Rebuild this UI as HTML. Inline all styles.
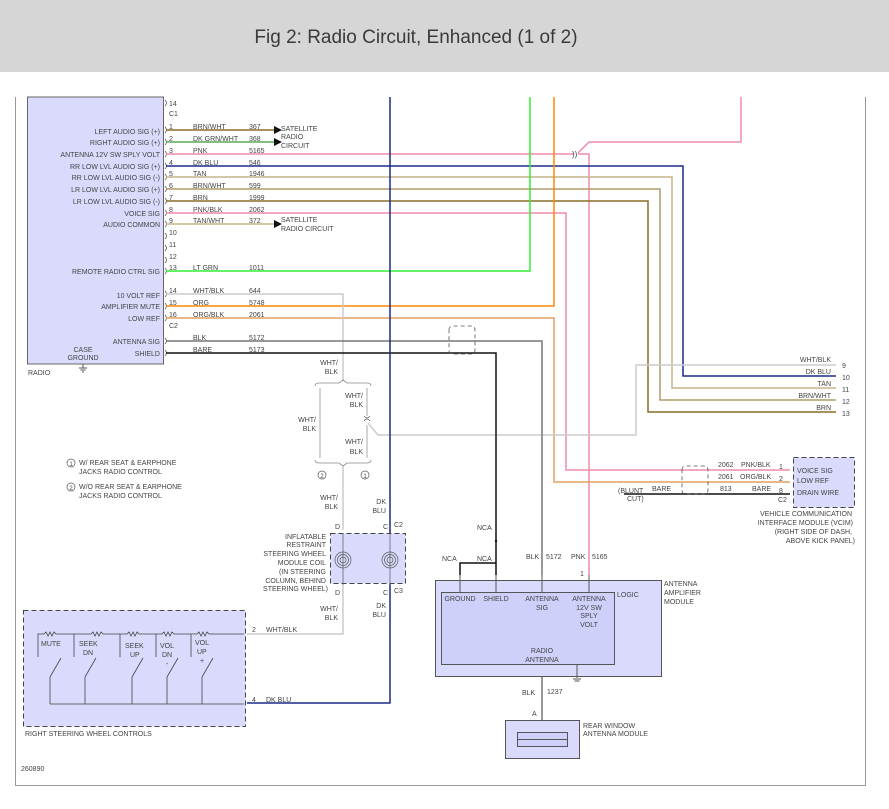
<!DOCTYPE html>
<html><head><meta charset="utf-8"><style>
html,body{margin:0;padding:0;background:#fff;}
svg{display:block;}
text{font-family:"Liberation Sans",sans-serif;font-size:7px;fill:#444;}
</style></head><body>
<svg width="889" height="809" viewBox="0 0 889 809" xmlns="http://www.w3.org/2000/svg">
<rect x="0" y="0" width="889" height="72" fill="#d6d6d6"/>
<text x="416" y="43" text-anchor="middle" style="font-size:19px;fill:#3a3a3a">Fig 2: Radio Circuit, Enhanced (1 of 2)</text>
<!-- frame -->
<path d="M15.5 97 V785.5 H865.5 V97" fill="none" stroke="#999" stroke-width="1"/>
<!-- radio box -->
<rect x="27.5" y="97" width="136" height="267" fill="#dadafc" stroke="#666"/>
<g text-anchor="end">
<text x="160" y="134">LEFT AUDIO SIG (+)</text>
<text x="160" y="145">RIGHT AUDIO SIG (+)</text>
<text x="160" y="157">ANTENNA 12V SW SPLY VOLT</text>
<text x="160" y="169">RR LOW LVL AUDIO SIG (+)</text>
<text x="160" y="180">RR LOW LVL AUDIO SIG (-)</text>
<text x="160" y="192">LR LOW LVL AUDIO SIG (+)</text>
<text x="160" y="204">LR LOW LVL AUDIO SIG (-)</text>
<text x="160" y="216">VOICE SIG</text>
<text x="160" y="227">AUDIO COMMON</text>
<text x="160" y="274">REMOTE RADIO CTRL SIG</text>
<text x="160" y="298">10 VOLT REF</text>
<text x="160" y="309">AMPLIFIER MUTE</text>
<text x="160" y="321">LOW REF</text>
<text x="160" y="344">ANTENNA SIG</text>
<text x="160" y="356">SHIELD</text>
</g>
<text x="83" y="352" text-anchor="middle">CASE</text>
<text x="83" y="360" text-anchor="middle">GROUND</text>
<text x="28" y="375">RADIO</text>
<path d="M83 364 v4 M79 368 h8 M80.5 370 h5 M82 372 h2" stroke="#555" fill="none"/>
<!-- pin numbers -->
<g>
<text x="169" y="106">14</text><text x="169" y="116">C1</text>
<text x="169" y="129">1</text><text x="169" y="141">2</text><text x="169" y="153">3</text><text x="169" y="165">4</text>
<text x="169" y="176">5</text><text x="169" y="188">6</text><text x="169" y="200">7</text><text x="169" y="212">8</text>
<text x="169" y="223">9</text><text x="169" y="235">10</text><text x="169" y="247">11</text><text x="169" y="259">12</text>
<text x="169" y="270">13</text><text x="169" y="293">14</text><text x="169" y="305">15</text><text x="169" y="317">16</text>
<text x="169" y="328">C2</text>
</g>
<g font-size="7">
<text x="193" y="129">BRN/WHT</text><text x="249" y="129">367</text>
<text x="193" y="141">DK GRN/WHT</text><text x="249" y="141">368</text>
<text x="193" y="153">PNK</text><text x="249" y="153">5165</text>
<text x="193" y="165">DK BLU</text><text x="249" y="165">546</text>
<text x="193" y="176">TAN</text><text x="249" y="176">1946</text>
<text x="193" y="188">BRN/WHT</text><text x="249" y="188">599</text>
<text x="193" y="200">BRN</text><text x="249" y="200">1999</text>
<text x="193" y="212">PNK/BLK</text><text x="249" y="212">2062</text>
<text x="193" y="223">TAN/WHT</text><text x="249" y="223">372</text>
<text x="193" y="270">LT GRN</text><text x="249" y="270">1011</text>
<text x="193" y="293">WHT/BLK</text><text x="249" y="293">644</text>
<text x="193" y="305">ORG</text><text x="249" y="305">5748</text>
<text x="193" y="317">ORG/BLK</text><text x="249" y="317">2061</text>
<text x="193" y="340">BLK</text><text x="249" y="340">5172</text>
<text x="193" y="352">BARE</text><text x="249" y="352">5173</text>
<text x="281" y="131">SATELLITE</text><text x="281" y="139">RADIO</text><text x="281" y="148">CIRCUIT</text>
<text x="281" y="222">SATELLITE</text><text x="281" y="231">RADIO CIRCUIT</text>
</g>
<!-- connector marks -->
<g stroke="#555" fill="none" stroke-width="0.8">
<path d="M165 100 q3 3 0 6 M165 127 q3 3 0 6 M165 139 q3 3 0 6 M165 151 q3 3 0 6 M165 163 q3 3 0 6 M165 174 q3 3 0 6 M165 186 q3 3 0 6 M165 198 q3 3 0 6 M165 210 q3 3 0 6 M165 221 q3 3 0 6 M165 233 q3 3 0 6 M165 245 q3 3 0 6 M165 257 q3 3 0 6 M165 268 q3 3 0 6 M165 291 q3 3 0 6 M165 303 q3 3 0 6 M165 315 q3 3 0 6 M165 338 q3 3 0 6 M165 350 q3 3 0 6"/>
</g>
<!-- wires -->
<g fill="none" stroke-width="1.5">
<path d="M166 130 H274" stroke="#8b6a2a"/>
<path d="M166 142 H274" stroke="#5aa85a"/>
<path d="M166 224 H274" stroke="#c8b48c"/>
<path d="M166 154 H574 M578 154 H589 V575" stroke="#f08ca8"/>
<path d="M578 153 L589 142 H741 V97" stroke="#f08ca8"/>
<path d="M166 166 H683 V376 H836" stroke="#1a2a8a"/>
<path d="M166 177 H672 V388 H836" stroke="#c8b48c"/>
<path d="M166 189 H660 V400 H836" stroke="#b09a6a"/>
<path d="M166 201 H648 V412 H836" stroke="#8a6e28"/>
<path d="M166 213 H566 V470 H790" stroke="#f08ca8"/>
<path d="M166 271 H530 V97" stroke="#33ee33"/>
<path d="M166 306 H554 V97" stroke="#ff8800"/>
<path d="M166 318 H554 V482 H790" stroke="#e0a060"/>
<path d="M166 294 H343 V380 M343 466 V530" stroke="#ccc"/>
<path d="M836 365 H636 V435 H378 L368 423" stroke="#ccc"/>
<path d="M320 388 V458 M367 388 V416 M367 425 V458" stroke="#aaa" stroke-width="1"/>
<path d="M166 341 H542 V575" stroke="#777"/>
<path d="M166 353 H496 V575" stroke="#111"/>
<path d="M390 97 V703 H247" stroke="#1a2a8a"/>
<path d="M343 585 V634 H247" stroke="#ccc"/>
<path d="M460 575 V563 H496" stroke="#111"/>
<path d="M624 494 H790" stroke="#111"/>
<path d="M542 676 V720" stroke="#777"/>
</g>
<!-- arrowheads -->
<g fill="#111"><path d="M274 126 l8 4 l-8 4z M274 138 l8 4 l-8 4z M274 220 l8 4 l-8 4z"/></g>
<text x="572" y="157" style="font-size:8px">))</text>
<!-- braces -->
<path d="M315 386 q0 -3 4 -3 h20 l4 -3 l4 3 h20 q4 0 4 3 M315 460 q0 3 4 3 h20 l4 3 l4 -3 h20 q4 0 4 -3" fill="none" stroke="#888" stroke-width="0.8"/>
<path d="M364 416 q3 4 6 0 M364 421 q3 -4 6 0" fill="none" stroke="#666" stroke-width="0.7"/>
<g text-anchor="end">
<text x="338" y="365">WHT/</text><text x="338" y="374">BLK</text>
<text x="363" y="398">WHT/</text><text x="363" y="407">BLK</text>
<text x="316" y="422">WHT/</text><text x="316" y="431">BLK</text>
<text x="363" y="444">WHT/</text><text x="363" y="454">BLK</text>
<text x="338" y="500">WHT/</text><text x="338" y="509">BLK</text>
<text x="386" y="504">DK</text><text x="386" y="513">BLU</text>
<text x="338" y="611">WHT/</text><text x="338" y="620">BLK</text>
<text x="386" y="608">DK</text><text x="386" y="617">BLU</text>
</g>
<circle cx="322" cy="475" r="4" fill="none" stroke="#555" stroke-width="0.7"/><text x="322" y="478" text-anchor="middle" style="font-size:6px">2</text>
<circle cx="365" cy="475" r="4" fill="none" stroke="#555" stroke-width="0.7"/><text x="365" y="478" text-anchor="middle" style="font-size:6px">1</text>
<!-- notes -->
<circle cx="71" cy="463" r="4" fill="none" stroke="#555" stroke-width="0.7"/><text x="71" y="466" text-anchor="middle" style="font-size:6px">1</text>
<text x="79" y="465">W/ REAR SEAT &amp; EARPHONE</text><text x="79" y="474">JACKS RADIO CONTROL</text>
<circle cx="71" cy="487" r="4" fill="none" stroke="#555" stroke-width="0.7"/><text x="71" y="490" text-anchor="middle" style="font-size:6px">2</text>
<text x="79" y="489">W/O REAR SEAT &amp; EARPHONE</text><text x="79" y="498">JACKS RADIO CONTROL</text>
<!-- coil module -->
<rect x="330.5" y="533.5" width="75" height="50" fill="#dadafc" stroke="#444" stroke-dasharray="5,3"/>
<g fill="none" stroke="#555" stroke-width="0.7">
<circle cx="343" cy="560" r="8"/><circle cx="343" cy="560" r="5.5"/><circle cx="343" cy="560" r="3"/>
<circle cx="390" cy="560" r="8"/><circle cx="390" cy="560" r="5.5"/><circle cx="390" cy="560" r="3"/>
<path d="M343 533 V585 M390 533 V585"/>
</g>
<text x="335" y="529">D</text><text x="383" y="529">C</text><text x="394" y="527">C2</text>
<text x="335" y="595">D</text><text x="383" y="595">C</text><text x="394" y="593">C3</text>
<g text-anchor="end">
<text x="326" y="539">INFLATABLE</text><text x="326" y="547">RESTRAINT</text><text x="326" y="556">STEERING WHEEL</text>
<text x="326" y="565">MODULE COIL</text><text x="326" y="574">(IN STEERING</text><text x="326" y="583">COLUMN, BEHIND</text><text x="328" y="591">STEERING WHEEL)</text>
</g>
<!-- steering wheel controls -->
<rect x="23.5" y="610.5" width="222" height="116" fill="#dadafc" stroke="#444" stroke-dasharray="5,3"/>
<g fill="none" stroke="#444" stroke-width="0.8">
<path d="M38 657 V634 H44 l2 -2 l2 4 l2 -4 l2 4 l2 -4 l2 2 H74 M74 657 V634 H91 l2 -2 l2 4 l2 -4 l2 4 l2 -4 l2 2 H120 M120 657 V634 H127 l2 -2 l2 4 l2 -4 l2 4 l2 -4 l2 2 H156 M156 657 V634 H162 l2 -2 l2 4 l2 -4 l2 4 l2 -4 l2 2 H191 M191 657 V634 H197 l2 -2 l2 4 l2 -4 l2 4 l2 -4 l2 2 H244"/>
<path d="M50 677 L61 658 M85 677 L96 658 M132 677 L143 658 M167 677 L178 658 M202 677 L213 658"/>
<path d="M50 677 V704 M85 677 V704 M132 677 V704 M167 677 V704 M202 677 V704 M50 704 H244"/>
</g>
<text x="41" y="646">MUTE</text><text x="79" y="646">SEEK</text><text x="83" y="655">DN</text>
<text x="125" y="648">SEEK</text><text x="130" y="657">UP</text><text x="160" y="648">VOL</text><text x="162" y="657">DN</text><text x="166" y="666">-</text>
<text x="195" y="645">VOL</text><text x="197" y="654">UP</text><text x="200" y="663">+</text>
<text x="252" y="632">2</text><text x="266" y="632">WHT/BLK</text>
<text x="252" y="702">4</text><text x="266" y="702">DK BLU</text>
<text x="25" y="736">RIGHT STEERING WHEEL CONTROLS</text>
<text x="21" y="771">260890</text>
<!-- shield dashed box -->
<path d="M449 330 q0 -4 4 -4 h18 q4 0 4 4 v20 q0 4 -4 4 h-18 q-4 0 -4 -4z" fill="none" stroke="#555" stroke-dasharray="4,3" stroke-width="0.8"/>
<path d="M682 470 q0 -4 4 -4 h18 q4 0 4 4 v20 q0 4 -4 4 h-18 q-4 0 -4 -4z" fill="none" stroke="#555" stroke-dasharray="4,3" stroke-width="0.8"/>
<!-- right pin labels -->
<g text-anchor="end">
<text x="831" y="362">WHT/BLK</text><text x="831" y="374">DK BLU</text><text x="831" y="386">TAN</text>
<text x="831" y="398">BRN/WHT</text><text x="831" y="410">BRN</text>
</g>
<text x="842" y="368">9</text><text x="842" y="380">10</text><text x="842" y="392">11</text><text x="842" y="404">12</text><text x="842" y="416">13</text>
<!-- VCIM -->
<rect x="793.5" y="457.5" width="61" height="50" fill="#dadafc" stroke="#444" stroke-dasharray="5,3"/>
<text x="797" y="473">VOICE SIG</text><text x="797" y="483">LOW REF</text><text x="797" y="495">DRAIN WIRE</text>
<text x="778" y="502">C2</text>
<text x="779" y="469">1</text><text x="779" y="481">2</text><text x="779" y="493">8</text>
<text x="718" y="467">2062</text><text x="741" y="467">PNK/BLK</text>
<text x="718" y="479">2061</text><text x="740" y="479">ORG/BLK</text>
<text x="720" y="491">813</text><text x="752" y="491">BARE</text>
<text x="652" y="491">BARE</text>
<text x="618" y="493">(BLUNT</text><text x="627" y="501">CUT)</text>
<g text-anchor="end">
<text x="852" y="516">VEHICLE COMMUNICATION</text><text x="853" y="525">INTERFACE MODULE (VCIM)</text>
<text x="852" y="534">(RIGHT SIDE OF DASH,</text><text x="855" y="543">ABOVE KICK PANEL)</text>
</g>
<!-- NCA -->
<circle cx="496" cy="541" r="1.2" fill="#111"/>
<text x="477" y="530">NCA</text><text x="442" y="561">NCA</text><text x="477" y="561">NCA</text>
<text x="526" y="559">BLK</text><text x="546" y="559">5172</text>
<text x="571" y="559">PNK</text><text x="592" y="559">5165</text><text x="580" y="576">1</text>
<!-- antenna amp -->
<rect x="435.5" y="580.5" width="226" height="96" fill="#dadafc" stroke="#555"/>
<rect x="441.5" y="592.5" width="173" height="72" fill="#cfd0fa" stroke="#555"/>
<path d="M460 575 V592 M496 575 V592 M542 575 V592 M589 575 V592" stroke="#555" fill="none"/>
<path d="M577 664 V678 M573 679 h8 M574.5 681 h5" stroke="#555" fill="none"/>
<text x="460" y="601" text-anchor="middle">GROUND</text><text x="496" y="601" text-anchor="middle">SHIELD</text>
<text x="542" y="601" text-anchor="middle">ANTENNA</text><text x="542" y="610" text-anchor="middle">SIG</text>
<text x="589" y="601" text-anchor="middle">ANTENNA</text><text x="589" y="610" text-anchor="middle">12V SW</text>
<text x="589" y="618" text-anchor="middle">SPLY</text><text x="589" y="627" text-anchor="middle">VOLT</text>
<text x="542" y="653" text-anchor="middle">RADIO</text><text x="542" y="662" text-anchor="middle">ANTENNA</text>
<text x="617" y="597">LOGIC</text>
<text x="664" y="586">ANTENNA</text><text x="664" y="595">AMPLIFIER</text><text x="664" y="604">MODULE</text>
<text x="522" y="695">BLK</text><text x="547" y="694">1237</text><text x="532" y="716">A</text>
<!-- rear window -->
<rect x="505.5" y="720.5" width="74" height="38" fill="#dadafc" stroke="#555"/>
<rect x="517.5" y="732.5" width="50" height="14" fill="#cfd0fa" stroke="#555"/>
<path d="M517 739.5 H567" stroke="#555"/>
<text x="583" y="728">REAR WINDOW</text><text x="583" y="736">ANTENNA MODULE</text>
</svg>
</body></html>
